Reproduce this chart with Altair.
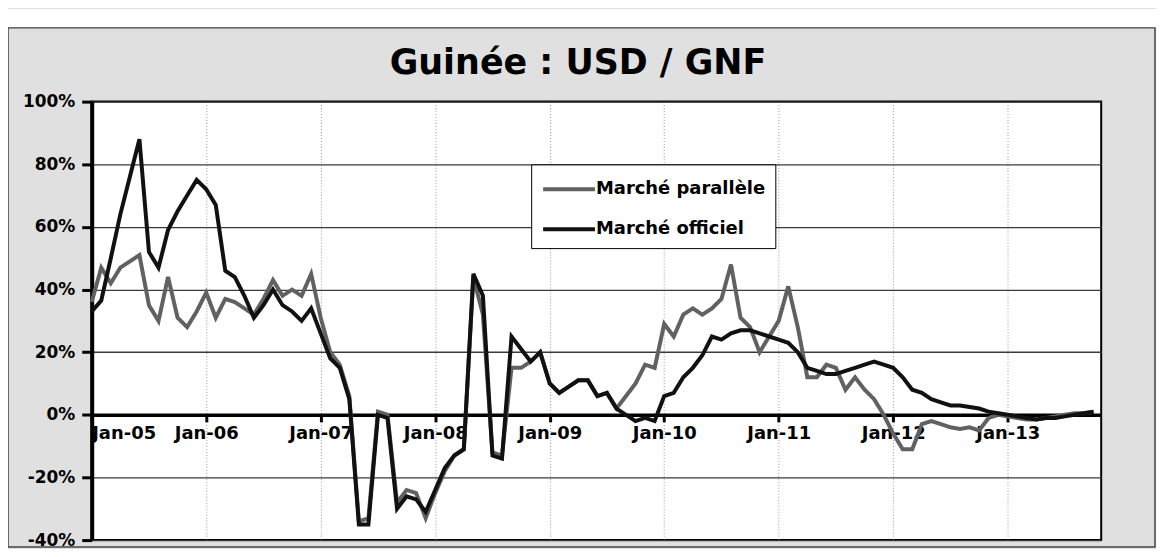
import json
import altair as alt
import pandas as pd

# ---- data (monthly, Jan-05 .. Oct-13), values in % ----
title_text = "Guinée : USD / GNF"
series_names = ["Marché parallèle", "Marché officiel"]
x_tick_labels = ["Jan-05", "Jan-06", "Jan-07", "Jan-08", "Jan-09",
                 "Jan-10", "Jan-11", "Jan-12", "Jan-13"]
y_tick_values = [-40, -20, 0, 20, 40, 60, 80, 100]

parallele = [
    36, 47, 42, 47, 49, 51, 35, 30, 44, 31, 28, 33,
    39, 31, 37, 36, 34, 32, 37, 43, 38, 40, 38, 45,
    31, 20, 16, 6, -34, -33, 1, 0, -28, -24, -25, -33,
    -25, -18, -13, -11, 44, 32, -12, -13, 15, 15, 17, 20,
    10, 7, 9, 11, 11, 6, 7, 2, 6, 10, 16, 15,
    29, 25, 32, 34, 32, 34, 37, 48, 31, 28, 20, 25,
    30, 41, 28, 12, 12, 16, 15, 8, 12, 8, 5, 0,
    -6, -11, -11, -3, -2, -3, -4, -4.5, -4, -5, -1, 0,
    -0.5, -1, -1.5, -1.5, -1, -0.5, 0, 0.5, 0.5, 1,
]
officiel = [
    33, 36.5, 50, 64, 76, 88, 52, 47, 59, 65, 70, 75,
    72, 67, 46, 44, 38, 31, 35, 40, 35, 33, 30, 34,
    26, 18, 15, 5, -35, -35, 0, -1, -30, -26, -27, -31,
    -24, -17, -13, -11, 45, 38, -13, -14, 25, 21, 17, 20,
    10, 7, 9, 11, 11, 6, 7, 2, 0, -2, -1, -2,
    6, 7, 12, 15, 19, 25, 24, 26, 27, 27, 26, 25,
    24, 23, 20, 15, 14, 13, 13, 14, 15, 16, 17, 16,
    15, 12, 8, 7, 5, 4, 3, 3, 2.5, 2, 1, 0.5,
    0, -0.5, -1, -1.5, -1, -1, -0.5, 0, 0.5, 1,
]

rows = []
for i, v in enumerate(parallele):
    rows.append({"m": i, "v": v, "serie": series_names[0]})
for i, v in enumerate(officiel):
    rows.append({"m": i, "v": v, "serie": series_names[1]})
df = pd.DataFrame(rows)

FONT = "DejaVu Sans"
W, H = 1013, 440
PAD_L, PAD_T, PAD_R, PAD_B = 84, 93, 55, 8
zero_offset = -H * 40 / 140

x_enc = alt.X(
    "m:Q",
    scale=alt.Scale(domain=[0, 105.8], nice=False, zero=False),
    axis=alt.Axis(
        values=[0, 12, 24, 36, 48, 60, 72, 84, 96],
        labelExpr=json.dumps(x_tick_labels) + "[round(datum.value/12)]",
        title=None,
        offset=zero_offset,
        domainColor="black", domainWidth=3.5,
        tickColor="black", tickWidth=3, tickSize=7,
        labelFont=FONT, labelFontWeight="bold", labelFontSize=18,
        labelColor="black", labelPadding=3,
        grid=True, gridColor="#9a9a9a", gridWidth=1, gridDash=[1, 2],
    ),
)
y_enc = alt.Y(
    "v:Q",
    scale=alt.Scale(domain=[-40, 100], nice=False, zero=False),
    axis=alt.Axis(
        values=y_tick_values,
        labelExpr="datum.value + '%'",
        title=None,
        domainColor="black", domainWidth=4,
        tickColor="black", tickWidth=3, tickSize=10,
        labelFont=FONT, labelFontWeight="bold", labelFontSize=17,
        labelColor="black", labelPadding=7,
        grid=True, gridColor="#3a3a3a", gridWidth=1.3,
    ),
)
color_enc = alt.Color(
    "serie:N",
    scale=alt.Scale(domain=series_names, range=["#616161", "#111111"]),
    legend=alt.Legend(
        orient="none", legendX=441, legendY=63, title=None,
        symbolType="M-1,0H3", symbolSize=676, symbolStrokeWidth=4,
        labelFont=FONT, labelFontWeight="bold", labelFontSize=18,
        labelColor="black", labelOffset=25, labelLimit=0,
        strokeColor="black", fillColor="white", padding=10,
        rowPadding=16,
    ),
)

base = alt.Chart(df)
one = pd.DataFrame({"t": [title_text]})

band = alt.Chart(one).mark_rect(color="white").encode(
    x=alt.value(-PAD_L), x2=alt.value(W + PAD_R + 2),
    y=alt.value(-PAD_T), y2=alt.value(-PAD_T + 18)
)
frame = alt.Chart(one).mark_rect(
    fillOpacity=0, stroke="#444444", strokeWidth=1.5
).encode(
    x=alt.value(-PAD_L), x2=alt.value(W + PAD_R - 1),
    y=alt.value(-PAD_T + 19), y2=alt.value(H + PAD_B - 1)
)
title = alt.Chart(one).mark_text(
    font=FONT, fontSize=35, fontWeight="bold", color="black",
    align="center", baseline="alphabetic"
).encode(text="t:N", x=alt.value(488), y=alt.value(-28))

line_par = base.transform_filter(
    alt.datum.serie == series_names[0]
).mark_line(strokeWidth=4, strokeJoin="miter").encode(x=x_enc, y=y_enc, color=color_enc)
line_off = base.transform_filter(
    alt.datum.serie == series_names[1]
).mark_line(strokeWidth=4, strokeJoin="miter").encode(x=x_enc, y=y_enc, color=color_enc)

chart = alt.layer(band, frame, title, line_par, line_off).properties(
    width=W, height=H,
    background="#e0e0e0",
    autosize=alt.AutoSizeParams(type="none"),
    padding={"left": PAD_L, "top": PAD_T, "right": PAD_R, "bottom": PAD_B},
).configure_view(
    fill="white", stroke="black", strokeWidth=2
)

chart.save("out.html", embed_options={"renderer": "svg", "actions": False})
